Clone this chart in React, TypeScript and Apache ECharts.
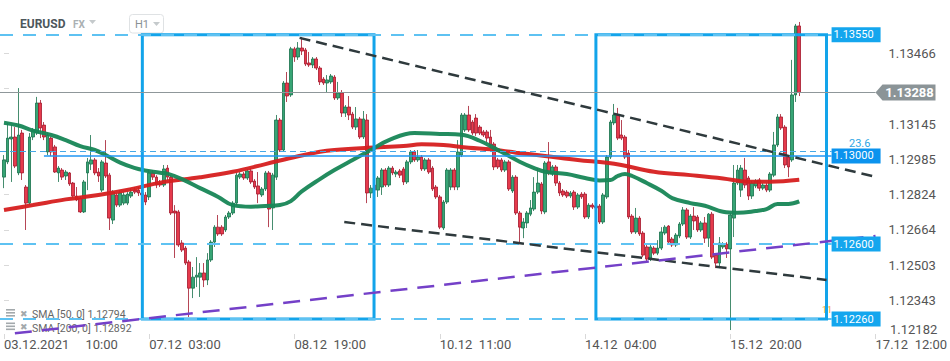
import React, { useEffect, useRef } from "react";
import * as echarts from "echarts";

// ---- candles (hourly, EURUSD) ----
const opens = [
  1.12904, 1.12973, 1.13077, 1.13086, 1.12923, 1.13104, 1.12859, 1.12786, 1.13086, 1.13104,
  1.13240, 1.13140, 1.13018, 1.13081, 1.13041, 1.12923, 1.12936, 1.12909, 1.12923, 1.12877,
  1.12818, 1.12809, 1.12746, 1.12923, 1.12963, 1.12982, 1.12927, 1.12845, 1.12968, 1.12913,
  1.12709, 1.12823, 1.12777, 1.12786, 1.12786, 1.12818, 1.12845, 1.12845, 1.12832, 1.12823,
  1.12814, 1.12923, 1.12904, 1.12877, 1.12868, 1.12945, 1.12904, 1.12750, 1.12746, 1.12605,
  1.12582, 1.12519, 1.12400, 1.12450, 1.12450, 1.12469, 1.12437, 1.12528, 1.12609, 1.12677,
  1.12677, 1.12664, 1.12723, 1.12741, 1.12786, 1.12904, 1.12918, 1.12900, 1.12932, 1.12886,
  1.12864, 1.12823, 1.12850, 1.12923, 1.12764, 1.12904, 1.13163, 1.13027, 1.13331, 1.13277,
  1.13486, 1.13449, 1.13490, 1.13481, 1.13422, 1.13413, 1.13440, 1.13399, 1.13349, 1.13331,
  1.13336, 1.13358, 1.13263, 1.13286, 1.13195, 1.13222, 1.13190, 1.13131, 1.13168, 1.13086,
  1.13163, 1.12832, 1.12868, 1.12845, 1.12859, 1.12936, 1.12868, 1.12945, 1.12918, 1.12932,
  1.12941, 1.12882, 1.12973, 1.13018, 1.12982, 1.12995, 1.12941, 1.12982, 1.12945, 1.12859,
  1.12814, 1.12673, 1.12791, 1.12859, 1.12936, 1.12859, 1.13004, 1.13118, 1.13186, 1.13154,
  1.13172, 1.13131, 1.13109, 1.13109, 1.13086, 1.13054, 1.12982, 1.12982, 1.12936, 1.12973,
  1.12841, 1.12904, 1.12741, 1.12673, 1.12696, 1.12736, 1.12759, 1.12836, 1.12873, 1.12746,
  1.12973, 1.12918, 1.12950, 1.12877, 1.12841, 1.12836, 1.12818, 1.12836, 1.12768, 1.12827,
  1.12827, 1.12723, 1.12777, 1.12773, 1.12773, 1.12700, 1.12814, 1.12995, 1.13150, 1.13186,
  1.13095, 1.13086, 1.13013, 1.12727, 1.12655, 1.12718, 1.12650, 1.12587, 1.12532, 1.12582,
  1.12559, 1.12582, 1.12650, 1.12682, 1.12623, 1.12596, 1.12637, 1.12691, 1.12755, 1.12632,
  1.12727, 1.12723, 1.12664, 1.12696, 1.12627, 1.12736, 1.12550, 1.12514, 1.12587, 1.12600,
  1.12578, 1.12718, 1.12877, 1.12845, 1.12936, 1.12900, 1.12818, 1.12864, 1.12891, 1.12854,
  1.12868, 1.12845, 1.12913, 1.13050, 1.13177, 1.13131, 1.12995, 1.12982, 1.13277, 1.13590,
];
const closes = [
  1.12982, 1.13081, 1.13086, 1.12954, 1.13095, 1.12923, 1.12786, 1.13086, 1.13118, 1.13240,
  1.13127, 1.13086, 1.13095, 1.13018, 1.12927, 1.12945, 1.12904, 1.12927, 1.12873, 1.12818,
  1.12800, 1.12746, 1.12882, 1.12973, 1.12982, 1.12923, 1.12909, 1.12973, 1.12909, 1.12718,
  1.12836, 1.12777, 1.12832, 1.12823, 1.12827, 1.12836, 1.12836, 1.12832, 1.12823, 1.12791,
  1.12923, 1.12904, 1.12868, 1.12868, 1.12941, 1.12904, 1.12741, 1.12741, 1.12596, 1.12573,
  1.12514, 1.12400, 1.12450, 1.12459, 1.12469, 1.12437, 1.12528, 1.12609, 1.12677, 1.12646,
  1.12646, 1.12723, 1.12741, 1.12786, 1.12913, 1.12918, 1.12900, 1.12932, 1.12882, 1.12859,
  1.12827, 1.12850, 1.12923, 1.12759, 1.12913, 1.13163, 1.13027, 1.13331, 1.13272, 1.13486,
  1.13449, 1.13490, 1.13476, 1.13417, 1.13413, 1.13440, 1.13399, 1.13336, 1.13331, 1.13345,
  1.13363, 1.13263, 1.13286, 1.13195, 1.13222, 1.13186, 1.13131, 1.13168, 1.13086, 1.13168,
  1.12832, 1.12854, 1.12845, 1.12900, 1.12936, 1.12868, 1.12945, 1.12923, 1.12927, 1.12913,
  1.12882, 1.12973, 1.13018, 1.12982, 1.12995, 1.12941, 1.12982, 1.12927, 1.12850, 1.12814,
  1.12677, 1.12791, 1.12936, 1.12936, 1.12859, 1.13018, 1.13186, 1.13186, 1.13118, 1.13104,
  1.13104, 1.13104, 1.13095, 1.13081, 1.13045, 1.12950, 1.12950, 1.12936, 1.12973, 1.12850,
  1.12904, 1.12741, 1.12677, 1.12700, 1.12741, 1.12764, 1.12836, 1.12877, 1.12750, 1.12968,
  1.12923, 1.12950, 1.12877, 1.12832, 1.12823, 1.12818, 1.12832, 1.12768, 1.12823, 1.12814,
  1.12723, 1.12777, 1.12768, 1.12764, 1.12700, 1.12823, 1.12995, 1.13154, 1.13186, 1.13081,
  1.13081, 1.12995, 1.12723, 1.12655, 1.12718, 1.12646, 1.12550, 1.12532, 1.12587, 1.12559,
  1.12582, 1.12655, 1.12677, 1.12609, 1.12596, 1.12641, 1.12691, 1.12755, 1.12632, 1.12727,
  1.12705, 1.12664, 1.12696, 1.12627, 1.12736, 1.12541, 1.12514, 1.12605, 1.12600, 1.12578,
  1.12732, 1.12877, 1.12936, 1.12945, 1.12868, 1.12818, 1.12877, 1.12886, 1.12854, 1.12868,
  1.12845, 1.12918, 1.13050, 1.13177, 1.13127, 1.12959, 1.12950, 1.13277, 1.13590, 1.13288,
];
const lows = [
  1.12854, 1.12963, 1.12882, 1.12945, 1.12913, 1.12891, 1.12664, 1.12777, 1.13072, 1.13095,
  1.13081, 1.13072, 1.13004, 1.13000, 1.12923, 1.12882, 1.12891, 1.12891, 1.12864, 1.12809,
  1.12795, 1.12741, 1.12741, 1.12845, 1.12936, 1.12913, 1.12882, 1.12836, 1.12900, 1.12664,
  1.12691, 1.12768, 1.12768, 1.12777, 1.12777, 1.12809, 1.12827, 1.12818, 1.12809, 1.12777,
  1.12800, 1.12891, 1.12854, 1.12859, 1.12859, 1.12891, 1.12732, 1.12537, 1.12587, 1.12564,
  1.12505, 1.12269, 1.12355, 1.12405, 1.12360, 1.12405, 1.12414, 1.12519, 1.12587, 1.12637,
  1.12637, 1.12655, 1.12714, 1.12732, 1.12777, 1.12895, 1.12891, 1.12891, 1.12873, 1.12850,
  1.12786, 1.12814, 1.12841, 1.12677, 1.12664, 1.12891, 1.13018, 1.13018, 1.13245, 1.13268,
  1.13427, 1.13436, 1.13458, 1.13408, 1.13404, 1.13399, 1.13390, 1.13322, 1.13322, 1.13290,
  1.13327, 1.13254, 1.13254, 1.13177, 1.13177, 1.13163, 1.13122, 1.13118, 1.13077, 1.13077,
  1.12786, 1.12809, 1.12823, 1.12814, 1.12823, 1.12859, 1.12859, 1.12913, 1.12904, 1.12900,
  1.12868, 1.12873, 1.12963, 1.12973, 1.12973, 1.12932, 1.12932, 1.12918, 1.12841, 1.12805,
  1.12668, 1.12664, 1.12782, 1.12845, 1.12845, 1.12845, 1.12995, 1.13109, 1.13109, 1.13095,
  1.13091, 1.13095, 1.13086, 1.13063, 1.13036, 1.12936, 1.12941, 1.12927, 1.12927, 1.12841,
  1.12832, 1.12732, 1.12600, 1.12627, 1.12673, 1.12727, 1.12750, 1.12827, 1.12736, 1.12736,
  1.12913, 1.12909, 1.12864, 1.12818, 1.12814, 1.12809, 1.12809, 1.12755, 1.12759, 1.12805,
  1.12714, 1.12714, 1.12759, 1.12755, 1.12691, 1.12691, 1.12805, 1.12986, 1.13140, 1.13072,
  1.13072, 1.12986, 1.12714, 1.12646, 1.12646, 1.12637, 1.12541, 1.12519, 1.12523, 1.12550,
  1.12550, 1.12573, 1.12641, 1.12600, 1.12587, 1.12587, 1.12627, 1.12682, 1.12623, 1.12623,
  1.12664, 1.12655, 1.12655, 1.12605, 1.12587, 1.12532, 1.12491, 1.12491, 1.12578, 1.12537,
  1.12210, 1.12632, 1.12868, 1.12814, 1.12854, 1.12800, 1.12805, 1.12854, 1.12841, 1.12845,
  1.12836, 1.12836, 1.12904, 1.13041, 1.13118, 1.12945, 1.12904, 1.12973, 1.13245, 1.13272,
];
const highs = [
  1.13004, 1.13150, 1.13140, 1.13131, 1.13308, 1.13118, 1.12868, 1.13104, 1.13127, 1.13268,
  1.13254, 1.13154, 1.13104, 1.13086, 1.13050, 1.12954, 1.12945, 1.12936, 1.12927, 1.12882,
  1.12859, 1.12818, 1.12891, 1.12991, 1.13095, 1.12991, 1.12945, 1.12982, 1.13072, 1.12923,
  1.12845, 1.12832, 1.12845, 1.12836, 1.12836, 1.12854, 1.12859, 1.12859, 1.12845, 1.12836,
  1.12936, 1.12936, 1.12913, 1.12891, 1.12959, 1.12959, 1.12913, 1.12777, 1.12755, 1.12618,
  1.12591, 1.12528, 1.12496, 1.12541, 1.12514, 1.12514, 1.12559, 1.12618, 1.12686, 1.12732,
  1.12686, 1.12732, 1.12750, 1.12795, 1.12923, 1.12927, 1.12927, 1.12941, 1.12945, 1.12895,
  1.12927, 1.12859, 1.12932, 1.12932, 1.12923, 1.13186, 1.13172, 1.13340, 1.13381, 1.13495,
  1.13495, 1.13517, 1.13540, 1.13490, 1.13472, 1.13449, 1.13449, 1.13408, 1.13358, 1.13367,
  1.13372, 1.13367, 1.13336, 1.13299, 1.13231, 1.13272, 1.13200, 1.13222, 1.13177, 1.13204,
  1.13190, 1.12868, 1.12877, 1.12909, 1.12945, 1.12945, 1.12954, 1.12954, 1.12936, 1.12941,
  1.12950, 1.12982, 1.13027, 1.13027, 1.13027, 1.13004, 1.12991, 1.12991, 1.12954, 1.12868,
  1.12823, 1.12800, 1.12945, 1.12945, 1.12945, 1.13072, 1.13195, 1.13195, 1.13227, 1.13163,
  1.13190, 1.13140, 1.13118, 1.13118, 1.13118, 1.13063, 1.12991, 1.12991, 1.12982, 1.12982,
  1.12913, 1.12913, 1.12750, 1.12718, 1.12750, 1.12800, 1.12904, 1.12945, 1.12882, 1.12977,
  1.13063, 1.12959, 1.12959, 1.12886, 1.12850, 1.12845, 1.12841, 1.12845, 1.12832, 1.12836,
  1.12836, 1.12786, 1.12786, 1.12782, 1.12782, 1.12832, 1.13004, 1.13163, 1.13236, 1.13218,
  1.13163, 1.13095, 1.13027, 1.12736, 1.12764, 1.12727, 1.12659, 1.12596, 1.12596, 1.12591,
  1.12618, 1.12677, 1.12686, 1.12686, 1.12632, 1.12650, 1.12700, 1.12768, 1.12764, 1.12736,
  1.12768, 1.12732, 1.12705, 1.12723, 1.12741, 1.12746, 1.12559, 1.12632, 1.12609, 1.12609,
  1.12741, 1.12959, 1.12959, 1.12959, 1.12991, 1.12909, 1.12886, 1.12895, 1.12900, 1.12877,
  1.12877, 1.12927, 1.13109, 1.13190, 1.13190, 1.13140, 1.13004, 1.13436, 1.13599, 1.13608,
];

// ---- moving averages (bar index, value) ----
const sma50Index = [0, 4, 8, 13, 17, 21, 25, 28, 32, 37, 43, 45, 49, 54, 59, 63, 68, 72, 76, 79, 82, 87, 91, 96, 101, 106, 113, 120, 126, 131, 136, 142, 146, 149, 155, 160, 164, 167, 169, 171, 173, 177, 181, 184, 189, 193, 198, 202, 207, 210, 213, 216, 219];
const sma50Values = [1.13151, 1.13138, 1.13115, 1.13095, 1.13072, 1.13045, 1.13027, 1.13004, 1.12970, 1.12941, 1.12924, 1.12920, 1.12895, 1.12854, 1.12814, 1.12777, 1.12770, 1.12773, 1.12777, 1.12795, 1.12839, 1.12895, 1.12936, 1.12982, 1.13027, 1.13072, 1.13104, 1.13100, 1.13096, 1.13069, 1.13027, 1.12974, 1.12945, 1.12928, 1.12918, 1.12900, 1.12889, 1.12891, 1.12909, 1.12918, 1.12909, 1.12877, 1.12842, 1.12809, 1.12786, 1.12774, 1.12747, 1.12742, 1.12750, 1.12759, 1.12782, 1.12782, 1.12794];
const sma200Index = [0, 8, 17, 26, 35, 43, 54, 63, 72, 81, 87, 91, 100, 110, 115, 121, 128, 134, 141, 149, 158, 166, 170, 179, 189, 198, 205, 211, 219];
const sma200Values = [1.12755, 1.12777, 1.12803, 1.12823, 1.12849, 1.12879, 1.12903, 1.12928, 1.12963, 1.12999, 1.13019, 1.13027, 1.13037, 1.13045, 1.13053, 1.13050, 1.13037, 1.13030, 1.13015, 1.13000, 1.12982, 1.12969, 1.12959, 1.12928, 1.12913, 1.12898, 1.12883, 1.12883, 1.12892];
const sma50Last = "1.12794";
const sma200Last = "1.12892";

// ---- axes ----
const NB = "\u00a0";
const xTickIndex = [0, 40, 80, 120, 160, 200, 240];
const xTickLabels = [
  "03.12.2021" + NB.repeat(5) + "10:00",
  "07.12" + NB + NB + "03:00",
  "08.12" + NB + NB + "19:00",
  "10.12" + NB + NB + "11:00",
  "14.12" + NB + NB + "04:00",
  "15.12" + NB + NB + "20:00",
  "17.12" + NB + NB + "12:00",
];
// 1.13306 sits behind the last-price tag in the reference, so only its tick is drawn
const yTickValues = [1.12182, 1.12343, 1.12503, 1.12664, 1.12824, 1.12985, 1.13145, 1.13306, 1.13466];
const yHiddenLabel = 1.13306;
const X_MIN = -1.1;
const X_MAX = 240;
const Y_MIN = 1.12192;
const Y_MAX = 1.13617;

// ---- annotations ----
const levelPrices = [1.1355, 1.126, 1.1226];
const keyLevel = 1.13;
const keyLevelStart = 11;
const levelEnd = 227.9;
const fibLevel = 1.13021;
const fibLabel = "23.6";
const lastPrice = 1.13288;
const tagPrices = [1.1355, 1.13, 1.126, 1.1226];
const boxRanges = [[38.1, 101.9], [163.0, 226.5]];
const boxTop = 1.1355;
const boxBottom = 1.1226;
const resistanceLine = [[81.4, 1.13536], [240, 1.12905]];
const lowerChannel = [[93.7, 1.127], [226.5, 1.12437]];
const supportLine = [[3, 1.12195], [240, 1.12637]];

export default function App() {
  const ref = useRef<HTMLDivElement>(null);
  useEffect(() => {
    if (!ref.current) return;
    const chart = echarts.init(ref.current, undefined, { renderer: "svg" });
    const candleData = opens.map((o, i) => [i, o, closes[i], lows[i], highs[i]]);
    const dashedLevel = { color: "#5ec2f2", width: 2, type: [13, 10] };
    const blackDash = { color: "#2f3a3d", width: 2.5, type: [11, 6] };
    const purpleDash = { color: "#7440c8", width: 2.5, type: [17, 10] };
    const font = "Roboto";
    const labelTicks = yTickValues.slice(1).filter((v) => v !== yHiddenLabel);

    const option: any = {
      animation: false,
      backgroundColor: "#ffffff",
      textStyle: { fontFamily: font },
      grid: { left: 0, top: 20, width: 877, height: 314 },
      xAxis: {
        type: "value",
        min: X_MIN,
        max: X_MAX,
        axisLine: { show: false },
        splitLine: { show: false },
        axisTick: { show: true, customValues: xTickIndex, length: 5, lineStyle: { color: "#d9d9d9" } },
        axisLabel: {
          customValues: xTickIndex,
          formatter: (v: number) => xTickLabels[xTickIndex.indexOf(Math.round(v))] ?? "",
          align: "left",
          color: "#555",
          fontSize: 13,
          margin: 4,
          fontFamily: font,
        },
      },
      yAxis: {
        type: "value",
        position: "right",
        min: Y_MIN,
        max: Y_MAX,
        offset: 6,
        axisLine: { show: false },
        splitLine: { show: false },
        axisTick: { show: true, customValues: yTickValues.slice(1), length: 5, lineStyle: { color: "#d9d9d9" } },
        axisLabel: {
          customValues: labelTicks,
          formatter: (v: number) => v.toFixed(5),
          color: "#555",
          fontSize: 13,
          margin: 7,
          fontFamily: font,
        },
      },
      series: [
        {
          type: "candlestick",
          data: candleData,
          encode: { x: 0, y: [1, 2, 3, 4] },
          barWidth: 3.2,
          z: 2,
          silent: true,
          itemStyle: {
            color: "#37a575",
            color0: "#e63a4c",
            borderColor: "#16704a",
            borderColor0: "#a3162b",
            borderWidth: 0.8,
          },
        },
        {
          type: "line",
          data: sma200Index.map((x, i) => [x, sma200Values[i]]),
          showSymbol: false,
          symbol: "none",
          smooth: 0.4,
          z: 3,
          silent: true,
          lineStyle: { width: 4, color: "#d61f1f", opacity: 0.95 },
        },
        {
          type: "line",
          data: sma50Index.map((x, i) => [x, sma50Values[i]]),
          showSymbol: false,
          symbol: "none",
          smooth: 0.4,
          z: 3,
          silent: true,
          lineStyle: { width: 4, color: "#178656", opacity: 0.95 },
        },
        {
          type: "line",
          data: [],
          clip: false,
          silent: true,
          z: 5,
          markArea: {
            silent: true,
            z: 4,
            itemStyle: { color: "rgba(0,0,0,0)", borderColor: "#13a4ea", borderWidth: 3 },
            data: boxRanges.map((b) => [{ coord: [b[0], boxTop] }, { coord: [b[1], boxBottom] }]),
          },
          markLine: {
            silent: true,
            symbol: ["none", "none"],
            label: { show: false },
            data: [
              ...levelPrices.map((p) => [{ coord: [X_MIN, p], lineStyle: dashedLevel }, { coord: [levelEnd, p] }]),
              [{ coord: [keyLevelStart, keyLevel], lineStyle: { color: "#2196f3", width: 1.5, type: "solid" } }, { coord: [levelEnd, keyLevel] }],
              [{ coord: [X_MIN, fibLevel], lineStyle: { color: "#45a8e6", width: 1, type: [6, 4] } }, { coord: [levelEnd, fibLevel] }],
              [{ coord: [X_MIN, lastPrice], lineStyle: { color: "#8f979a", width: 1, type: "solid" } }, { coord: [X_MAX, lastPrice] }],
              [{ coord: resistanceLine[0], lineStyle: blackDash }, { coord: resistanceLine[1] }],
              [{ coord: lowerChannel[0], lineStyle: blackDash }, { coord: lowerChannel[1] }],
              [{ coord: supportLine[0], lineStyle: purpleDash }, { coord: supportLine[1] }],
            ],
          },
          markPoint: {
            silent: true,
            z: 6,
            data: [
              ...tagPrices.map((p) => ({
                name: p.toFixed(5),
                coord: [levelEnd, p],
                symbol: "rect",
                symbolSize: [49, 15],
                symbolOffset: [24.5, 0],
                itemStyle: { color: p === keyLevel ? "#0b93ee" : "#14a6ee" },
                label: { show: true, position: "inside", formatter: "{b}", color: "#fff", fontSize: 11, offset: [-2.5, 0], fontFamily: font },
              })),
              {
                name: lastPrice.toFixed(5),
                coord: [X_MAX, lastPrice],
                symbol: "path://M0,8L7,0L60,0L60,16L7,16Z",
                symbolSize: [60, 16],
                symbolOffset: [30, 0],
                itemStyle: { color: "#8b9497" },
                label: { show: true, position: "inside", formatter: "{b}", color: "#fff", fontSize: 13, fontWeight: "bold", offset: [4, 0], fontFamily: font },
              },
            ],
          },
        },
      ],
      graphic: [
        { type: "text", x: 20, y: 24, style: { text: "EURUSD", fill: "#4d575c", font: "bold 12px Roboto", verticalAlign: "middle" } },
        { type: "text", x: 73, y: 24, style: { text: "FX", fill: "#aab0b3", font: "bold 10px Roboto", verticalAlign: "middle" } },
        { type: "polygon", shape: { points: [[89, 20], [96, 20], [92.5, 24]] }, style: { fill: "#c5cacc" } },
        { type: "rect", shape: { x: 129.5, y: 14.5, width: 34, height: 18.5, r: 3 }, style: { fill: "#fff", stroke: "#dfe2e4", lineWidth: 1 } },
        { type: "text", x: 135, y: 24, style: { text: "H1", fill: "#8a9194", font: "11px Roboto", verticalAlign: "middle" } },
        { type: "polygon", shape: { points: [[153, 22], [160, 22], [156.5, 26]] }, style: { fill: "#c5cacc" } },
        { type: "text", x: 849, y: 143, style: { text: fibLabel, fill: "#2ea6e4", font: "11px Roboto", verticalAlign: "middle" } },
        { type: "text", x: 822, y: 310, style: { text: "11", fill: "#f5a623", font: "9px Roboto", verticalAlign: "middle" } },
        { type: "text", x: 890, y: 329.5, style: { text: yTickValues[0].toFixed(5), fill: "#555", font: "13px Roboto", verticalAlign: "middle" } },
        // legend rows
        { type: "rect", shape: { x: 6, y: 309, width: 9, height: 1.6 }, style: { fill: "#a3a9ac" } },
        { type: "rect", shape: { x: 6, y: 312, width: 9, height: 1.6 }, style: { fill: "#a3a9ac" } },
        { type: "rect", shape: { x: 6, y: 315, width: 9, height: 1.6 }, style: { fill: "#a3a9ac" } },
        { type: "text", x: 20, y: 313.5, style: { text: "\u2716", fill: "#a3a9ac", font: "9px 'DejaVu Sans'", verticalAlign: "middle" } },
        { type: "text", x: 32, y: 314.5, style: { text: "SMA [50, 0] " + sma50Last, fill: "#666", font: "10.5px Roboto", verticalAlign: "middle" } },
        { type: "rect", shape: { x: 6, y: 322.5, width: 9, height: 1.6 }, style: { fill: "#a3a9ac" } },
        { type: "rect", shape: { x: 6, y: 325.5, width: 9, height: 1.6 }, style: { fill: "#a3a9ac" } },
        { type: "rect", shape: { x: 6, y: 328.5, width: 9, height: 1.6 }, style: { fill: "#a3a9ac" } },
        { type: "text", x: 20, y: 327, style: { text: "\u2716", fill: "#a3a9ac", font: "9px 'DejaVu Sans'", verticalAlign: "middle" } },
        { type: "text", x: 32, y: 328, style: { text: "SMA [200, 0] " + sma200Last, fill: "#666", font: "10.5px Roboto", verticalAlign: "middle" } },
      ],
    };
    chart.setOption(option);
    return () => chart.dispose();
  }, []);
  return <div ref={ref} style={{ position: "absolute", left: 0, top: 0, width: 950, height: 361 }} />;
}
